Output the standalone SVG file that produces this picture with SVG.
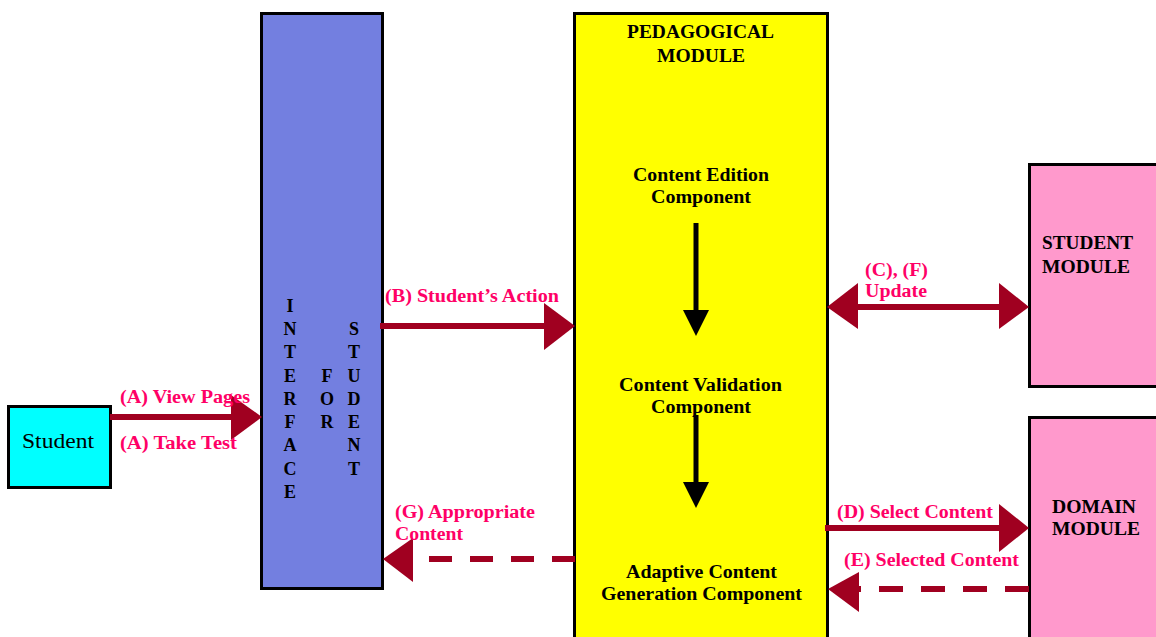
<svg xmlns="http://www.w3.org/2000/svg" width="1156" height="637" viewBox="0 0 1156 637">
<style>
.box{stroke:#000;stroke-width:3}
.t{font-family:"Liberation Serif","Times New Roman",serif;font-weight:bold;font-size:18px;fill:#000}
.lbl{font-family:"Liberation Serif","Times New Roman",serif;font-weight:bold;font-size:18px;fill:#FF0066}
.c{text-anchor:middle}
.ln{stroke:#A00020;stroke-width:6;fill:none}
.dash{stroke-dasharray:24 18}
.hd{fill:#A00020}
.bk{stroke:#000;stroke-width:5;fill:none}
</style>
<rect width="1156" height="637" fill="#fff"/>
<g id="student">
<rect class="box" x="8.5" y="406.5" width="102" height="81" fill="#00FFFF"/>
<text x="22" y="448" font-family="Liberation Serif,Times New Roman,serif" font-size="22" textLength="72" lengthAdjust="spacingAndGlyphs">Student</text>
</g>
<g id="interface">
<rect class="box" x="261.5" y="13.5" width="121" height="575" fill="#737FE0"/>
<g class="t c">
<text x="290" y="312">I</text>
<text x="290" y="335">N</text>
<text x="290" y="358">T</text>
<text x="290" y="382">E</text>
<text x="290" y="405">R</text>
<text x="290" y="428">F</text>
<text x="290" y="451">A</text>
<text x="290" y="475">C</text>
<text x="290" y="498">E</text>
<text x="327" y="382">F</text>
<text x="327" y="405">O</text>
<text x="327" y="428">R</text>
<text x="354" y="335">S</text>
<text x="354" y="358">T</text>
<text x="354" y="382">U</text>
<text x="354" y="405">D</text>
<text x="354" y="428">E</text>
<text x="354" y="451">N</text>
<text x="354" y="475">T</text>
</g>
</g>
<g id="pedagogical">
<rect class="box" x="574.5" y="13.5" width="253" height="640" fill="#FFFF00"/>
<text class="t" x="627" y="38" textLength="147" lengthAdjust="spacingAndGlyphs">PEDAGOGICAL</text>
<text class="t" x="657" y="62" textLength="88" lengthAdjust="spacingAndGlyphs">MODULE</text>
<text class="t" x="633" y="181" textLength="136" lengthAdjust="spacingAndGlyphs">Content Edition</text>
<text class="t" x="651" y="203" textLength="100" lengthAdjust="spacingAndGlyphs">Component</text>
<text class="t" x="619" y="391" textLength="163" lengthAdjust="spacingAndGlyphs">Content Validation</text>
<text class="t" x="651" y="413" textLength="100" lengthAdjust="spacingAndGlyphs">Component</text>
<text class="t" x="626" y="578" textLength="151" lengthAdjust="spacingAndGlyphs">Adaptive Content</text>
<text class="t" x="601" y="600" textLength="201" lengthAdjust="spacingAndGlyphs">Generation Component</text>
</g>
<g id="student-module">
<rect class="box" x="1029.5" y="164.5" width="140" height="222" fill="#FF99CC"/>
<text class="t" x="1042" y="249" textLength="91" lengthAdjust="spacingAndGlyphs">STUDENT</text>
<text class="t" x="1042" y="273" textLength="88" lengthAdjust="spacingAndGlyphs">MODULE</text>
</g>
<g id="domain-module">
<rect class="box" x="1029.5" y="417.5" width="140" height="240" fill="#FF99CC"/>
<text class="t" x="1052" y="513" textLength="84" lengthAdjust="spacingAndGlyphs">DOMAIN</text>
<text class="t" x="1052" y="535" textLength="88" lengthAdjust="spacingAndGlyphs">MODULE</text>
</g>
<g id="connectors">
<line class="ln" x1="110" y1="417" x2="233" y2="417"/>
<polygon class="hd" points="231,395 262,417 231,440"/>
<line class="ln" x1="380" y1="326" x2="546" y2="326"/>
<polygon class="hd" points="544,303 575,326 544,350"/>
<line class="ln" x1="856" y1="307" x2="1001" y2="307"/>
<polygon class="hd" points="858,283 827,307 858,329"/>
<polygon class="hd" points="999,283 1029,307 999,329"/>
<line class="ln" x1="825" y1="528" x2="1001" y2="528"/>
<polygon class="hd" points="999,504 1029,528 999,552"/>
<line class="ln dash" x1="1029" y1="589" x2="858" y2="589"/>
<polygon class="hd" points="859,572 828,589 859,612"/>
<line class="ln dash" x1="575" y1="559" x2="413" y2="559" style="stroke-dasharray:23 18"/>
<polygon class="hd" points="413,538 383,559 413,582"/>
<line class="bk" x1="696" y1="223" x2="696" y2="312"/>
<polygon points="683,310 709,310 696,336" fill="#000"/>
<line class="bk" x1="696" y1="415" x2="696" y2="484"/>
<polygon points="683,482 709,482 696,508" fill="#000"/>
<text class="lbl" x="120" y="403" textLength="130" lengthAdjust="spacingAndGlyphs">(A) View Pages</text>
<text class="lbl" x="120" y="449" textLength="117" lengthAdjust="spacingAndGlyphs">(A) Take Test</text>
<text class="lbl" x="385" y="302" textLength="174" lengthAdjust="spacingAndGlyphs">(B) Student’s Action</text>
<text class="lbl" x="395" y="518" textLength="140" lengthAdjust="spacingAndGlyphs">(G) Appropriate</text>
<text class="lbl" x="395" y="540" textLength="68" lengthAdjust="spacingAndGlyphs">Content</text>
<text class="lbl" x="865" y="276" textLength="63" lengthAdjust="spacingAndGlyphs">(C), (F)</text>
<text class="lbl" x="865" y="297" textLength="62" lengthAdjust="spacingAndGlyphs">Update</text>
<text class="lbl" x="837" y="518" textLength="156" lengthAdjust="spacingAndGlyphs">(D) Select Content</text>
<text class="lbl" x="844" y="566" textLength="175" lengthAdjust="spacingAndGlyphs">(E) Selected Content</text>
</g>
</svg>
